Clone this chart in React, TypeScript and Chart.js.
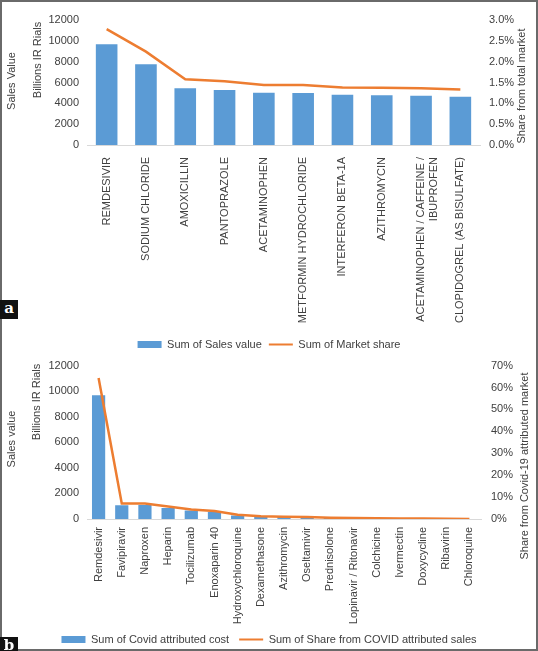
import React, { useEffect, useRef } from "react";
import { Chart, registerables } from "chart.js";
Chart.register(...registerables);

const FONT = "'Liberation Sans', Arial, sans-serif";
const TXT = "#404040";
const BLUE = "#5B9BD5";
const ORANGE = "#ED7D31";

// ---- Panel a data ----
const drugsA: (string | string[])[] = [
  "REMDESIVIR",
  "SODIUM CHLORIDE",
  "AMOXICILLIN",
  "PANTOPRAZOLE",
  "ACETAMINOPHEN",
  "METFORMIN HYDROCHLORIDE",
  "INTERFERON BETA-1A",
  "AZITHROMYCIN",
  ["ACETAMINOPHEN / CAFFEINE /", "IBUPROFEN"],
  "CLOPIDOGREL (AS BISULFATE)",
];
const salesA = [9667, 7747, 5443, 5280, 5021, 4992, 4829, 4771, 4733, 4637];
const shareA = [2.78, 2.24, 1.58, 1.53, 1.44, 1.44, 1.38, 1.375, 1.36, 1.33];
const salesTicksA = { min: 0, max: 12000, step: 2000 };
const shareTicksA = { min: 0, max: 3.0, step: 0.5 };

// ---- Panel b data ----
const drugsB = [
  "Remdesivir",
  "Favipiravir",
  "Naproxen",
  "Heparin",
  "Tocilizumab",
  "Enoxaparin 40",
  "Hydroxychloroquine",
  "Dexamethasone",
  "Azithromycin",
  "Oseltamivir",
  "Prednisolone",
  "Lopinavir / Ritonavir",
  "Colchicine",
  "Ivermectin",
  "Doxycycline",
  "Ribavirin",
  "Chloroquine",
];
const salesB = [9690, 1070, 1090, 870, 665, 540, 280, 180, 150, 130, 85, 65, 45, 35, 25, 15, 5];
const shareB = [64.3, 7.1, 7.1, 5.7, 4.3, 3.6, 1.9, 1.2, 1.0, 0.9, 0.6, 0.45, 0.3, 0.25, 0.18, 0.12, 0.04];
const salesTicksB = { min: 0, max: 12000, step: 2000 };
const shareTicksB = { min: 0, max: 70, step: 10 };

const titlesPlugin = {
  id: "axisTitles",
  afterDraw(chart: any, _args: any, opts: any) {
    const ctx = chart.ctx;
    ctx.save();
    ctx.font = `11px ${FONT}`;
    ctx.fillStyle = TXT;
    ctx.textAlign = "center";
    ctx.textBaseline = "middle";
    (opts.items || []).forEach((t: any) => {
      ctx.save();
      ctx.translate(t.x, t.y);
      ctx.rotate(-Math.PI / 2);
      ctx.fillText(t.text, 0, 0);
      ctx.restore();
    });
    ctx.restore();
  },
};

function makeConfig(p: any) {
  const font = { family: FONT, size: 11 };
  return {
    type: "bar",
    data: {
      labels: p.labels,
      datasets: [
        {
          type: "bar",
          label: p.barLabel,
          data: p.sales,
          backgroundColor: BLUE,
          yAxisID: "y",
          order: 2,
          barPercentage: p.barPct,
          categoryPercentage: 1,
        },
        {
          type: "line",
          label: p.lineLabel,
          data: p.share,
          borderColor: ORANGE,
          backgroundColor: ORANGE,
          borderWidth: 2.5,
          pointRadius: 0,
          tension: 0,
          yAxisID: "y1",
          order: 1,
        },
      ],
    },
    options: {
      responsive: false,
      animation: false,
      devicePixelRatio: 1,
      layout: { padding: { top: p.padTop, left: 0, right: 0, bottom: 0 } },
      plugins: {
        tooltip: { enabled: false },
        axisTitles: { items: p.titles },
        legend: {
          position: "bottom",
          labels: {
            font,
            color: TXT,
            usePointStyle: true,
            pointStyleWidth: 24,
            boxHeight: 7,
            padding: p.legendPad,
            generateLabels: () => [
              {
                text: p.barLabel,
                fillStyle: BLUE,
                strokeStyle: BLUE,
                lineWidth: 0,
                pointStyle: "rect",
                hidden: false,
                datasetIndex: 0,
                fontColor: TXT,
              },
              {
                text: p.lineLabel,
                fillStyle: ORANGE,
                strokeStyle: ORANGE,
                lineWidth: 2,
                pointStyle: "line",
                hidden: false,
                datasetIndex: 1,
                fontColor: TXT,
              },
            ],
          },
        },
      },
      scales: {
        x: {
          grid: { display: false, drawTicks: false },
          border: { display: true, color: "#d9d9d9", width: 1 },
          ticks: {
            font,
            color: TXT,
            maxRotation: 90,
            minRotation: 90,
            padding: p.xPad,
            autoSkip: false,
          },
          afterFit: (s: any) => {
            s.height = p.xHeight;
          },
        },
        y: {
          position: "left",
          min: p.salesTicks.min,
          max: p.salesTicks.max,
          grid: { display: false, drawTicks: false },
          border: { display: false },
          ticks: {
            font,
            color: TXT,
            stepSize: p.salesTicks.step,
            padding: 8,
            callback: (v: any) => String(v),
          },
          afterFit: (s: any) => {
            s.width = 87;
          },
        },
        y1: {
          position: "right",
          min: p.shareTicks.min,
          max: p.shareTicks.max,
          grid: { display: false, drawTicks: false },
          border: { display: false },
          ticks: {
            font,
            color: TXT,
            stepSize: p.shareTicks.step,
            padding: p.rightPad,
            callback: p.fmt,
          },
          afterFit: (s: any) => {
            s.width = p.rightW;
          },
        },
      },
    },
    plugins: [titlesPlugin],
  };
}

function ChartCanvas({ cfg, top, height }: any) {
  const ref = useRef<HTMLCanvasElement | null>(null);
  useEffect(() => {
    if (!ref.current) return;
    const chart = new Chart(ref.current, cfg as any);
    return () => chart.destroy();
  }, []);
  return (
    <canvas
      ref={ref}
      width={538}
      height={height}
      style={{ position: "absolute", left: 0, top, width: 538, height }}
    />
  );
}

const cfgA = makeConfig({
  labels: drugsA,
  sales: salesA,
  share: shareA,
  salesTicks: salesTicksA,
  shareTicks: shareTicksA,
  fmt: (v: any) => Number(v).toFixed(1) + "%",
  barLabel: "Sum of Sales value",
  lineLabel: "Sum of Market share",
  barPct: 0.55,
  padTop: 20,
  xPad: 12,
  xHeight: 187,
  rightW: 58,
  rightPad: 9,
  legendPad: 7,
  titles: [
    { text: "Sales Value", x: 12, y: 81 },
    { text: "Billions IR Rials", x: 38, y: 60 },
    { text: "Share from total market", x: 522, y: 86 },
  ],
});

const cfgB = makeConfig({
  labels: drugsB,
  sales: salesB,
  share: shareB,
  salesTicks: salesTicksB,
  shareTicks: shareTicksB,
  fmt: (v: any) => String(v) + "%",
  barLabel: "Sum of Covid attributed cost",
  lineLabel: "Sum of Share from COVID attributed sales",
  barPct: 0.57,
  padTop: 13,
  xPad: 8,
  xHeight: 105,
  rightW: 57,
  rightPad: 10,
  legendPad: 10,
  titles: [
    { text: "Sales value", x: 12, y: 90 },
    { text: "Billions IR Rials", x: 37, y: 53 },
    { text: "Share from Covid-19 attributed market", x: 525, y: 117 },
  ],
});

const badge: React.CSSProperties = {
  position: "absolute",
  left: 0,
  width: 18,
  background: "#111",
  color: "#fff",
  fontFamily: "'DejaVu Serif', 'Liberation Serif', serif",
  fontWeight: "bold",
  fontSize: 15,
  lineHeight: "17px",
  textAlign: "center",
  overflow: "hidden",
};

export default function App() {
  return (
    <div
      style={{
        position: "fixed",
        left: 0,
        top: 0,
        width: 538,
        height: 651,
        background: "#fff",
        overflow: "hidden",
      }}
    >
      <ChartCanvas cfg={cfgA} top={0} height={360} />
      <ChartCanvas cfg={cfgB} top={349} height={306} />
      <div
        style={{
          position: "absolute",
          left: 0,
          top: 0,
          width: 538,
          height: 651,
          boxSizing: "border-box",
          border: "2px solid #6a6a6a",
          pointerEvents: "none",
        }}
      />
      <div style={{ ...badge, top: 300, height: 19 }}>a</div>
      <div style={{ ...badge, top: 637, height: 14 }}>b</div>
    </div>
  );
}
